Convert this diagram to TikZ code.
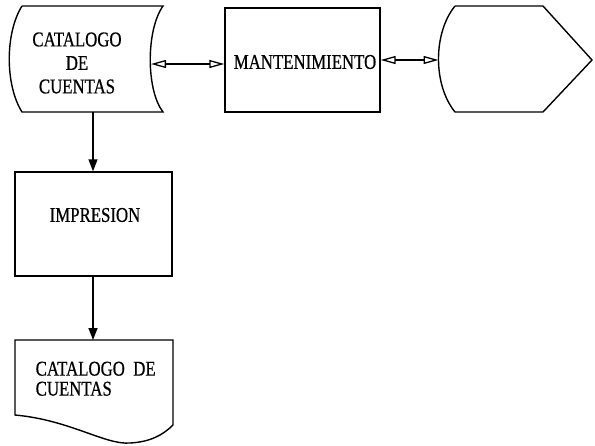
\documentclass[tikz,border=0pt]{standalone}
\usepackage{fontspec}
\newfontfamily\scanfont[FakeStretch=0.8,FakeBold=0.6]{Liberation Serif}
\usetikzlibrary{arrows.meta, calc, positioning}

\begin{document}
\begin{tikzpicture}[x=1pt,y=-1pt,line width=1.4pt,
    txt/.style={font=\scanfont\fontsize{21}{23.5}\selectfont,inner sep=0pt},
    proc/.style={draw,minimum width=#1,minimum height=104pt,inner sep=0pt},
    flow/.style={-{Triangle[length=12pt,width=9pt]}},
    link/.style={line width=1.3pt,{Triangle[open,length=15pt,width=8pt]}-{Triangle[open,length=15pt,width=8pt]}}]
\useasboundingbox (0,0) rectangle (595,445);

    %
    \draw (22,6) -- (163,6) .. controls (146,30) and (146,90) .. (163,112)
        -- (22,112) .. controls (5,85) and (5,33) .. (22,6);
    \node[txt,align=center] (store) at (77,63) {CATALOGO\\DE\\CUENTAS};
    \coordinate (store-e) at (151,64);
    \coordinate (store-s) at (93,112);

    %
    \node[proc=155pt] (mant) at (302.5,60) {};
    \node[txt] (manttext) at (305,62) {MANTENIMIENTO};

    %
    \draw (455,6) -- (543,6) -- (592,60) -- (543,112) -- (455,112)
        .. controls (433,85) and (433,33) .. (455,6);
    \coordinate (disp-w) at (438.5,60);

    %
    \node[proc=157pt] (impr) at (93.5,224) {};
    \node[txt] (imprtext) at (95,215) {IMPRESION};

    %
    \draw (15,340) -- (173,340) -- (173,425)
        .. controls (163,435) and (150,442) .. (130,443)
        .. controls (105,445) and (70,420) .. (15,415) -- cycle;
    \coordinate (doc-n) at (93,340);
    \node[txt,align=left,anchor=north west,font=\scanfont\fontsize{21}{20}\selectfont] (doc) at (35,361) {CATALOGO~~DE\\CUENTAS};

    %
    \draw[link] (store-e) -- (store-e -| mant.west);
    \draw[link] (mant.east) -- (disp-w);
    \draw[flow] (store-s) -- (store-s |- impr.north);
    \draw[flow] (store-s |- impr.south) -- (doc-n);
\end{tikzpicture}
\end{document}
